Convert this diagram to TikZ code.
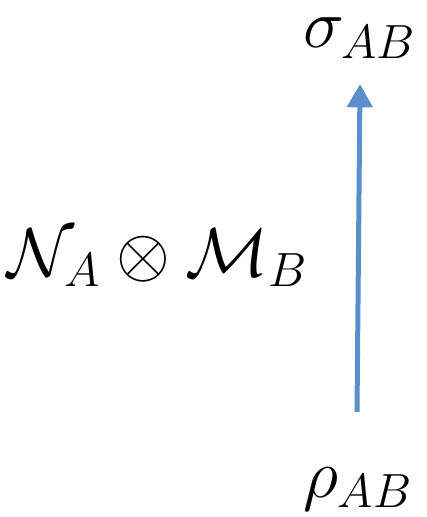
\documentclass[tikz,border=0pt]{standalone}
\usepackage{amsmath,amssymb}
\usetikzlibrary{arrows.meta,positioning}
\definecolor{chan}{HTML}{5B8FCB}

\begin{document}
\begin{tikzpicture}[x=0.3pt,y=-0.3pt,
  st/.style={inner sep=0pt, font=\fontsize{19.5}{24}\selectfont},
  arr/.style={-{Triangle[length=7pt,width=7.5pt]}, chan, line width=1.5pt}
]
  \useasboundingbox (0,0) rectangle (427,517);
  \node[st] (out) at (360,38)  {$\sigma_{AB}$};
  \node[st] (in)  at (358,489) {$\rho_{AB}$};
  \node[st] (map) at (158,258) {$\mathcal{N}_A\otimes\mathcal{M}_B$};
  \coordinate (s) at (357,412);
  \coordinate (t) at (360,84);
  \draw[arr] (s) -- (t);
\end{tikzpicture}
\end{document}
